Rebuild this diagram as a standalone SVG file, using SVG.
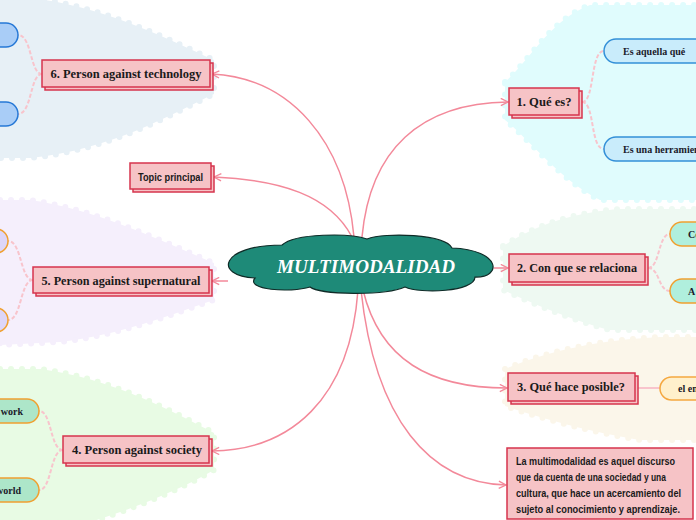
<svg xmlns="http://www.w3.org/2000/svg" width="696" height="520" viewBox="0 0 696 520">
<defs>
<marker id="arr" viewBox="0 0 10 10" refX="9" refY="5" markerWidth="9" markerHeight="9" markerUnits="userSpaceOnUse" orient="auto">
<path d="M1,1 L9,5 L1,9" fill="none" stroke="#f3899a" stroke-width="1.5"/>
</marker>
<style>
.bg{stroke-width:6;stroke-linecap:round;stroke-dasharray:0 11;stroke-linejoin:round}
.conn{fill:none;stroke:#f3899a;stroke-width:1.5;marker-end:url(#arr)}
.sub{fill:none;stroke:#f8c4cc;stroke-width:2;stroke-dasharray:4 2}
.box{fill:#f6c3c6;stroke:#d6354d;stroke-width:1.5}
.lbl{font-family:"Liberation Serif","DejaVu Serif",serif;font-weight:bold;font-size:13px;fill:#1a1a1a;text-anchor:middle}
.sml{font-family:"Liberation Serif","DejaVu Serif",serif;font-weight:bold;font-size:10px;fill:#1a1a2a}
.sans{font-family:"Liberation Sans","Noto Sans",sans-serif;font-weight:bold;font-size:11px;fill:#1a1a1a}
</style>
</defs>

<g id="backgrounds">
<path class="bg" fill="#e7f0f6" stroke="#e7f0f6" d="M0,0 L45,0 C110,10 170,40 214,60 L214,94 C170,115 110,150 30,158 L0,158 Z"/>
<path class="bg" fill="#f5effc" stroke="#f5effc" d="M0,200 L30,200 C100,210 170,245 214,263 L214,300 C170,315 120,335 60,342 L0,345 Z"/>
<path class="bg" fill="#e8fbe4" stroke="#e8fbe4" d="M0,369 L40,369 C110,378 170,410 214,433 L214,470 C180,490 130,510 90,522 L0,522 Z"/>
<path class="bg" fill="#e0fcfd" stroke="#e0fcfd" d="M505,82 C530,60 550,20 590,5 L700,5 L700,200 L600,200 C560,180 530,140 505,120 Z"/>
<path class="bg" fill="#eef9f2" stroke="#eef9f2" d="M503,246 C540,222 580,212 620,209 L700,209 L700,330 L610,330 C570,320 530,302 503,290 Z"/>
<path class="bg" fill="#fbf6ea" stroke="#fbf6ea" d="M505,369 C550,350 600,340 660,337 L700,337 L700,440 L640,440 C590,432 540,418 505,406 Z"/>
</g>

<g id="connectors">
<path class="conn" d="M354,237 C345,140 290,78 212,74"/>
<path class="conn" d="M352,237 C330,195 280,180 214,177"/>
<path class="conn" d="M362,237 C370,150 420,103 508,102"/>
<path class="conn" d="M494,268 L508,268"/>
<path class="conn" d="M228,281 L212,281"/>
<path class="conn" d="M363,290 C380,360 430,388 507,388"/>
<path class="conn" d="M358,290 C350,400 290,450 212,451"/>
<path class="conn" d="M361,290 C375,420 430,483 506,485"/>
<path class="sub" d="M582,102 C595,102 590,51 604,51 M582,102 C595,102 590,149 604,149"/>
<path class="sub" d="M648,268 C660,268 658,234 670,234 M648,268 C660,268 658,291 670,291"/>
<path d="M638,388 L660,388" fill="none" stroke="#f8c4cc" stroke-width="2"/>
<path class="sub" d="M63,450 C50,450 52,411 39,411 M63,450 C50,450 52,490 39,490"/>
<path class="sub" d="M33,280 C20,280 22,241 8,241 M33,280 C20,280 22,320 8,320"/>
<path class="sub" d="M42,74 C30,74 32,35 18,35 M42,74 C30,74 32,114 18,114"/>
</g>

<g id="center">
<path fill="#1e8a78" stroke="#0f2b27" stroke-width="1.2" d="M282,245 C295,233 350,233 367,239 C385,232 445,234 452,248 C502,250 502,278 475,277 C475,292 420,294 405,287 C385,296 320,295 310,287 C290,293 245,290 255,278 C213,276 220,245 282,245 Z"/>
<text x="366" y="273" textLength="178" lengthAdjust="spacingAndGlyphs" font-family="Liberation Serif, DejaVu Serif, serif" font-style="italic" font-weight="bold" font-size="18" fill="#ffffff" text-anchor="middle">MULTIMODALIDAD</text>
</g>

<g id="n6">
<rect class="box" x="45" y="63" width="168" height="27"/>
<rect class="box" x="42" y="60" width="168" height="27"/>
<text class="lbl" x="126" y="78" textLength="151" lengthAdjust="spacingAndGlyphs">6. Person against technology</text>
</g>
<g id="n6a"><rect x="-90" y="23" width="108" height="24" rx="12" fill="#a9cdf7" stroke="#2678d6" stroke-width="1.5"/></g>
<g id="n6b"><rect x="-90" y="102" width="108" height="24" rx="12" fill="#a9cdf7" stroke="#2678d6" stroke-width="1.5"/></g>

<g id="topic">
<rect class="box" x="133" y="166" width="81" height="26"/>
<rect class="box" x="130" y="163" width="81" height="26"/>
<text class="sans" x="138" y="181" textLength="65" lengthAdjust="spacingAndGlyphs">Topic principal</text>
</g>

<g id="n5">
<rect class="box" x="36" y="270" width="176" height="26"/>
<rect class="box" x="33" y="267" width="176" height="26"/>
<text class="lbl" x="121" y="285" textLength="159" lengthAdjust="spacingAndGlyphs">5. Person against supernatural</text>
</g>
<g id="n5a"><rect x="-100" y="229" width="108" height="24" rx="12" fill="#ddd6f8" stroke="#f0a030" stroke-width="1.5"/></g>
<g id="n5b"><rect x="-100" y="308" width="108" height="24" rx="12" fill="#ddd6f8" stroke="#f0a030" stroke-width="1.5"/></g>

<g id="n4">
<rect class="box" x="66" y="439" width="146" height="27"/>
<rect class="box" x="63" y="436" width="146" height="27"/>
<text class="lbl" x="137" y="454" textLength="130" lengthAdjust="spacingAndGlyphs">4. Person against society</text>
</g>
<g id="n4a"><rect x="-70" y="399" width="109" height="24" rx="12" fill="#ade6c9" stroke="#f0a030" stroke-width="1.5"/><text class="sml" x="23" y="415" text-anchor="end">work</text></g>
<g id="n4b"><rect x="-70" y="478" width="109" height="24" rx="12" fill="#ade6c9" stroke="#f0a030" stroke-width="1.5"/><text class="sml" x="21" y="494" text-anchor="end">world</text></g>

<g id="n1">
<rect class="box" x="512" y="91" width="70" height="27"/>
<rect class="box" x="509" y="88" width="70" height="27"/>
<text class="lbl" x="544" y="106" textLength="55" lengthAdjust="spacingAndGlyphs">1. Qué es?</text>
</g>
<g id="n1a"><rect x="604" y="39" width="120" height="24" rx="12" fill="#c9ecfb" stroke="#3390d8" stroke-width="1.5"/><text class="sml" x="623" y="55">Es aquella qué</text></g>
<g id="n1b"><rect x="604" y="137" width="120" height="24" rx="12" fill="#c9ecfb" stroke="#3390d8" stroke-width="1.5"/><text class="sml" x="623" y="153">Es una herramienta</text></g>

<g id="n2">
<rect class="box" x="512" y="257" width="136" height="28"/>
<rect class="box" x="509" y="254" width="136" height="28"/>
<text class="lbl" x="577" y="272" textLength="120" lengthAdjust="spacingAndGlyphs">2. Con que se relaciona</text>
</g>
<g id="n2a"><rect x="670" y="222" width="80" height="24" rx="12" fill="#b0efdd" stroke="#f0a030" stroke-width="1.5"/><text class="sml" x="688" y="238">Co</text></g>
<g id="n2b"><rect x="670" y="279" width="80" height="24" rx="12" fill="#b0efdd" stroke="#f0a030" stroke-width="1.5"/><text class="sml" x="688" y="295">A</text></g>

<g id="n3">
<rect class="box" x="511" y="376" width="127" height="28"/>
<rect class="box" x="508" y="373" width="127" height="28"/>
<text class="lbl" x="571" y="391" textLength="108" lengthAdjust="spacingAndGlyphs">3. Qué hace posible?</text>
</g>
<g id="n3a"><rect x="660" y="377" width="80" height="23" rx="11.5" fill="#fff0cc" stroke="#f5a840" stroke-width="1.5"/><text class="sml" x="678" y="392">el en</text></g>

<g id="n7">
<rect class="box" x="507" y="448" width="186" height="71"/>
<text class="sans" x="516" y="465" textLength="159" lengthAdjust="spacingAndGlyphs">La multimodalidad es aquel discurso</text>
<text class="sans" x="516" y="481" textLength="150" lengthAdjust="spacingAndGlyphs">que da cuenta de una sociedad y una</text>
<text class="sans" x="516" y="497" textLength="165" lengthAdjust="spacingAndGlyphs">cultura, que hace un acercamiento del</text>
<text class="sans" x="516" y="513" textLength="164" lengthAdjust="spacingAndGlyphs">sujeto al conocimiento y aprendizaje.</text>
</g>
</svg>
